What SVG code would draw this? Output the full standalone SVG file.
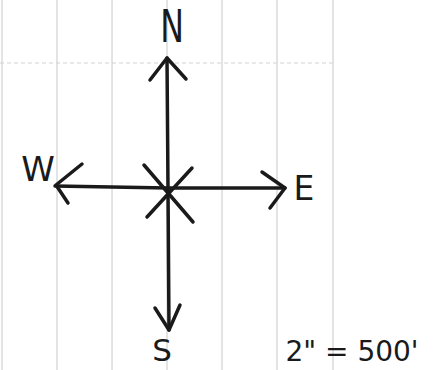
<svg xmlns="http://www.w3.org/2000/svg" width="441" height="370" viewBox="0 0 441 370">
<style>
.grid{stroke:#c8c8c8;stroke-width:1;fill:none}
.gridh{stroke:#d2d2d2;stroke-width:1;stroke-dasharray:4 3;fill:none}
.ink{stroke:#1a1a1a;stroke-width:3.5;stroke-linecap:round;stroke-linejoin:round;fill:none}
.lbl{font-family:"DejaVu Sans","Liberation Sans",sans-serif;fill:#1a1a1a;text-anchor:middle}
</style>
<rect width="441" height="370" fill="#ffffff"/>
<g id="grid">
<line class="grid" x1="2" y1="0" x2="2" y2="370"/>
<line class="grid" x1="57" y1="0" x2="57" y2="370"/>
<line class="grid" x1="112" y1="0" x2="112" y2="370"/>
<line class="grid" x1="167" y1="0" x2="167" y2="370"/>
<line class="grid" x1="222" y1="0" x2="222" y2="370"/>
<line class="grid" x1="277" y1="0" x2="277" y2="370"/>
<line class="grid" x1="333" y1="0" x2="333" y2="370"/>
<line class="gridh" x1="0" y1="63" x2="333" y2="63"/>
</g>
<g id="connectors">
<path class="ink" d="M167 58 L168 188 L169 330"/>
<path class="ink" d="M55 186 L168 188 L285 188"/>
<path class="ink" d="M150 80 L167 58 L186 79"/>
<path class="ink" d="M82 164 L56 185 L68 203"/>
<path class="ink" d="M262 172 L285 188 L270 208"/>
<path class="ink" d="M155 308 L169 330 L180 305"/>
<path class="ink" d="M144 165 L193 222"/>
<path class="ink" d="M192 168 L147 217"/>
</g>
<g id="N"><text class="lbl" x="172" y="42" font-size="44" transform="translate(172 0) scale(0.72 1) translate(-172 0)">N</text></g>
<g id="W"><text class="lbl" x="38" y="181" font-size="34">W</text></g>
<g id="E"><text class="lbl" x="304" y="200" font-size="33">E</text></g>
<g id="S"><text class="lbl" x="162" y="361" font-size="31">S</text></g>
<g id="scale"><text class="lbl" x="352" y="361" font-size="28">2" = 500'</text></g>
</svg>
